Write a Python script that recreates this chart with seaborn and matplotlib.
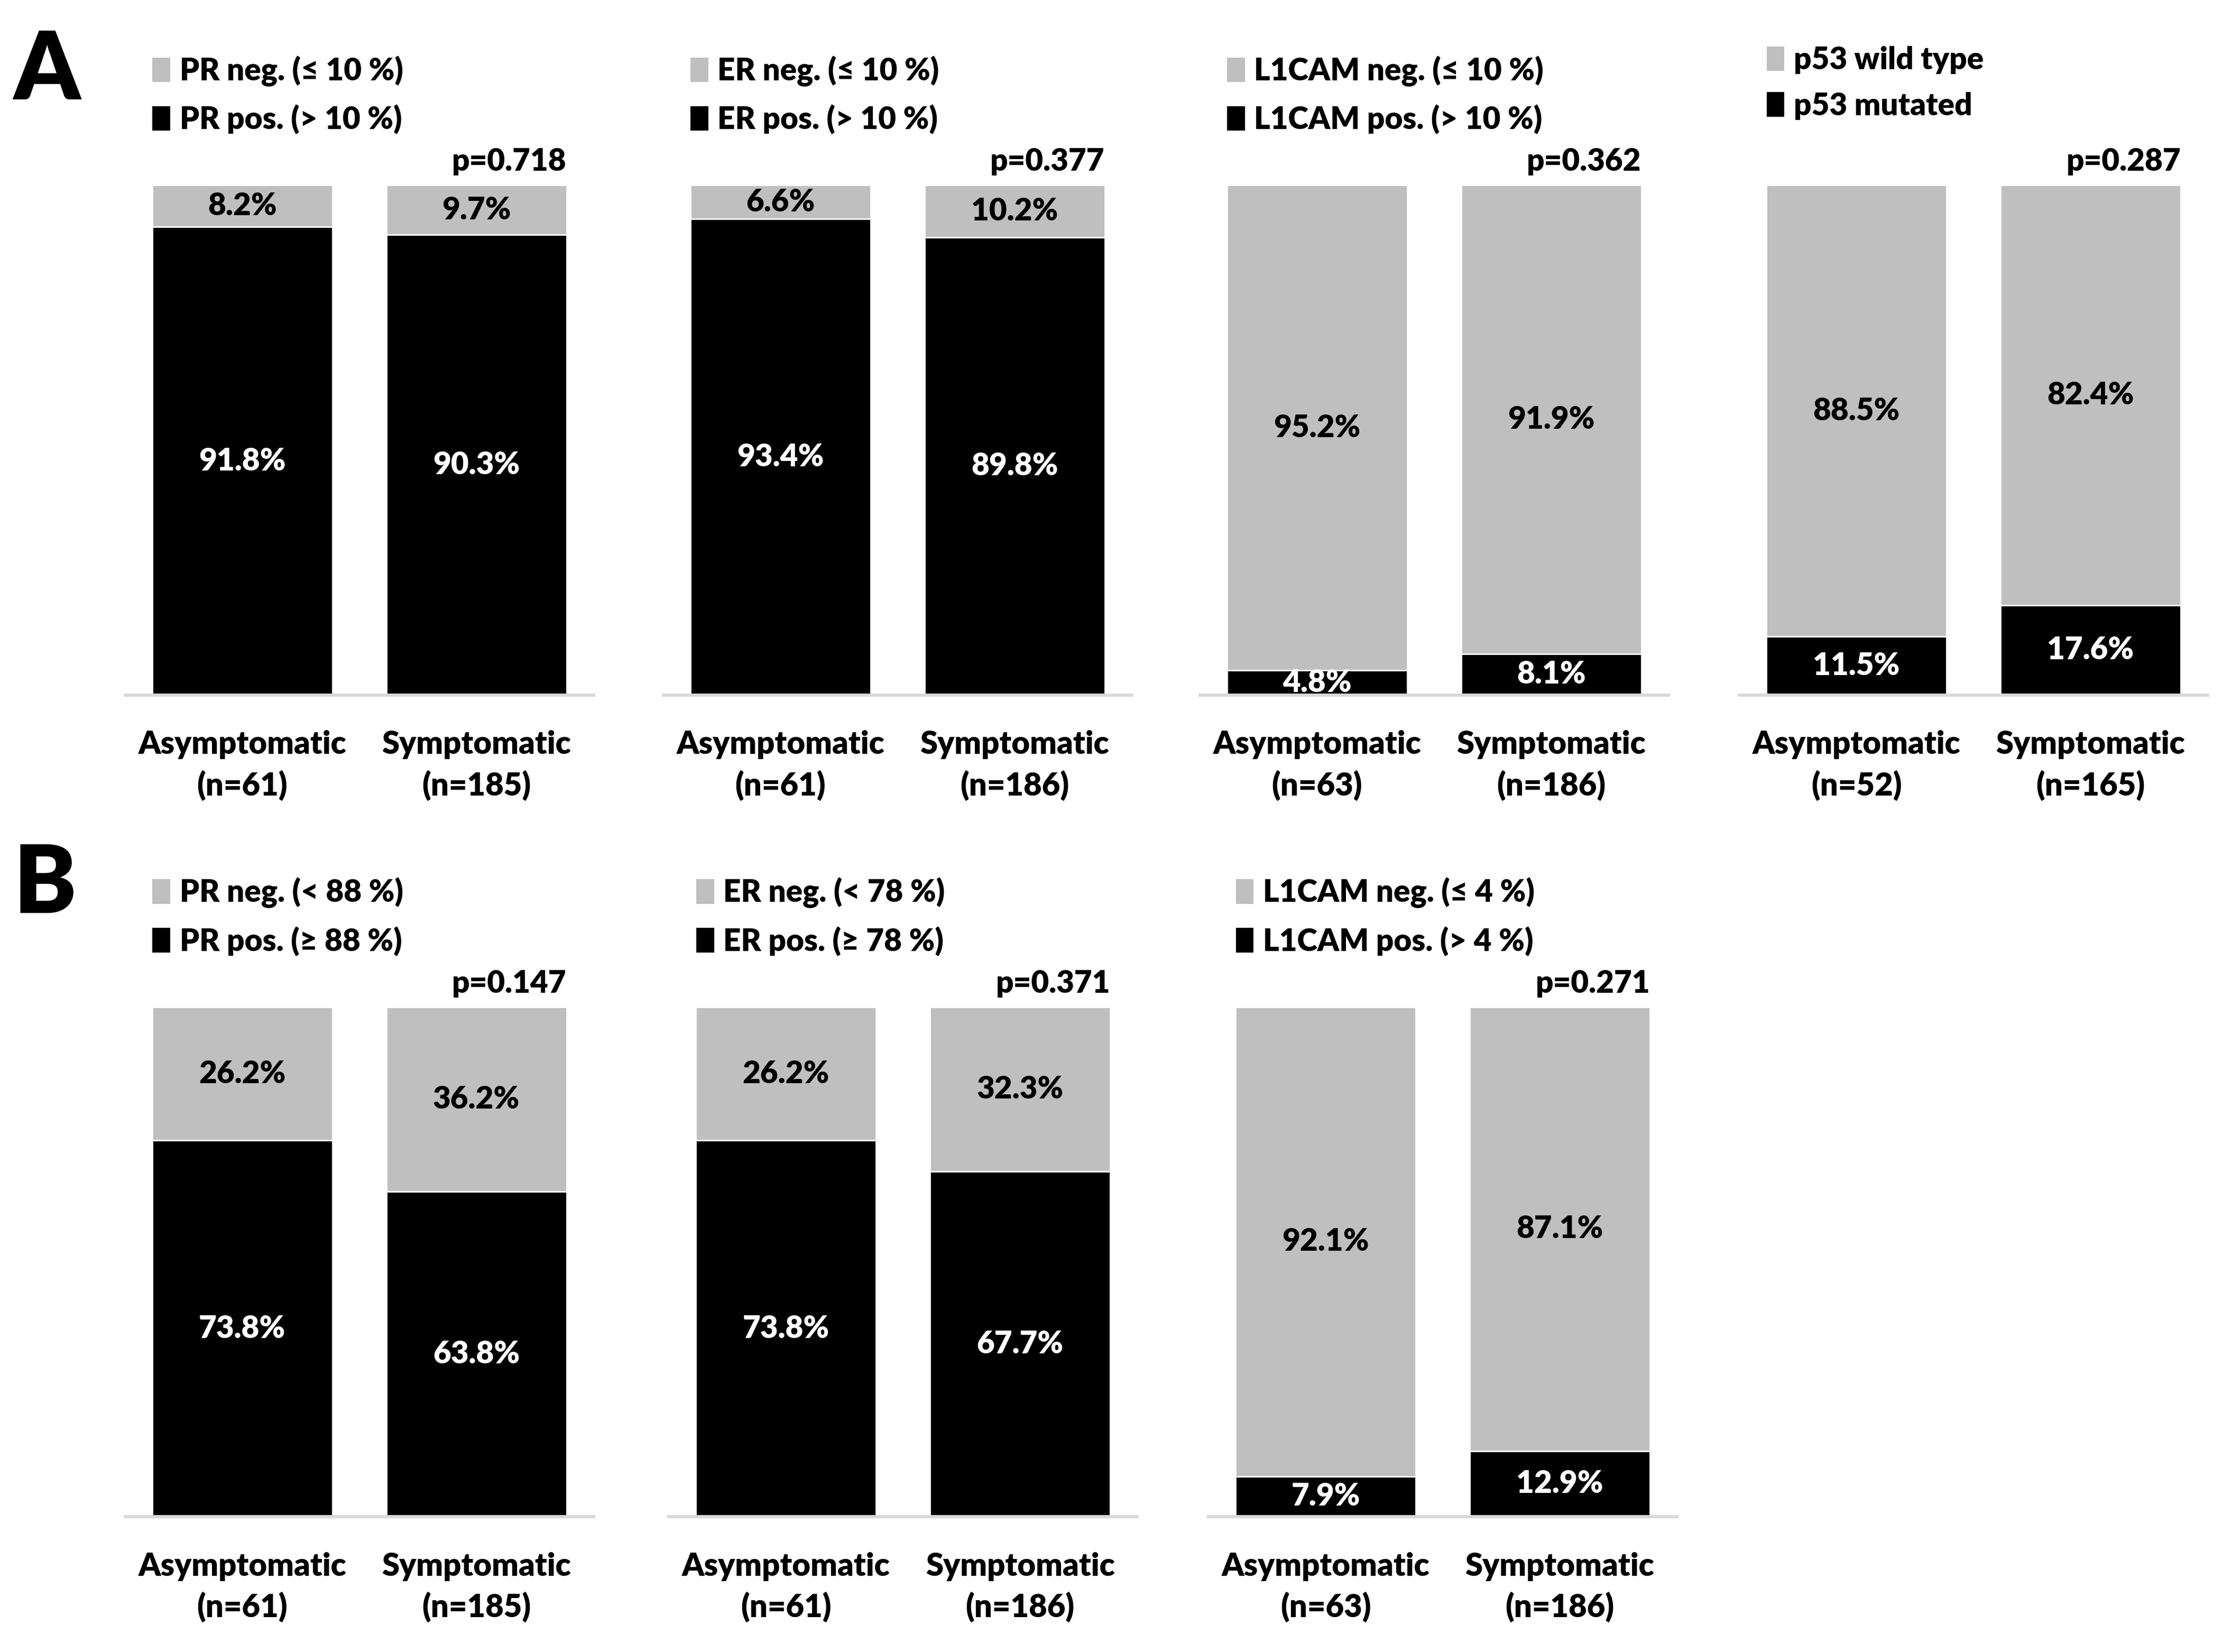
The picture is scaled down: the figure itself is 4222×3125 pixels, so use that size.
import numpy as np
import pandas as pd
from matplotlib import pyplot as plt
from matplotlib.patches import Patch
import seaborn as sns

# values (percent of patients)
groups = ['Asymptomatic', 'Symptomatic']

a_pr_neg = [8.2, 9.7]
a_pr_pos = [91.8, 90.3]
a_pr_n = [61, 185]
a_er_neg = [6.6, 10.2]
a_er_pos = [93.4, 89.8]
a_er_n = [61, 186]
a_l1_neg = [95.2, 91.9]
a_l1_pos = [4.8, 8.1]
a_l1_n = [63, 186]
a_p53_wt = [88.5, 82.4]
a_p53_mut = [11.5, 17.6]
a_p53_n = [52, 165]

b_pr_neg = [26.2, 36.2]
b_pr_pos = [73.8, 63.8]
b_pr_n = [61, 185]
b_er_neg = [26.2, 32.3]
b_er_pos = [73.8, 67.7]
b_er_n = [61, 186]
b_l1_neg = [92.1, 87.1]
b_l1_pos = [7.9, 12.9]
b_l1_n = [63, 186]

p_values_a = ['0.718', '0.377', '0.362', '0.287']
p_values_b = ['0.147', '0.371', '0.271']

legend_a = [('PR neg. (≤ 10 %)', 'PR pos. (> 10 %)'),
            ('ER neg. (≤ 10 %)', 'ER pos. (> 10 %)'),
            ('L1CAM neg. (≤ 10 %)', 'L1CAM pos. (> 10 %)'),
            ('p53 wild type', 'p53 mutated')]
legend_b = [('PR neg. (< 88 %)', 'PR pos. (≥ 88 %)'),
            ('ER neg. (< 78 %)', 'ER pos. (≥ 78 %)'),
            ('L1CAM neg. (≤ 4 %)', 'L1CAM pos. (> 4 %)')]

GREY = '#bfbfbf'
BLACK = '#000000'
FONT = ['Lato', 'DejaVu Sans']
WEIGHT = 'heavy'

sns.set_style('white')
plt.rcParams['font.family'] = FONT
plt.rcParams['font.weight'] = WEIGHT
plt.rcParams['text.color'] = 'black'
plt.rcParams['xtick.color'] = 'black'
plt.rcParams['xtick.labelcolor'] = 'black'


def draw_panel(ax, neg, pos, n, labels, p, leg_y=1.254):
    df = pd.DataFrame({'group': groups,
                       'neg': neg, 'pos': pos,
                       'total': np.array(neg) + np.array(pos)})
    sns.barplot(data=df, x='group', y='total', color=GREY, width=0.77,
                saturation=1, ax=ax)
    sns.barplot(data=df, x='group', y='pos', color=BLACK, width=0.77,
                saturation=1, ax=ax)
    ax.bar_label(ax.containers[1], labels=[f'{v:.1f}%' for v in pos],
                 label_type='center', color='white', fontsize=21,
                 fontweight=WEIGHT)
    for i, row in df.iterrows():
        ax.text(i, row['pos'] + row['neg'] / 2, f"{row['neg']:.1f}%",
                ha='center', va='center', fontsize=21, fontweight=WEIGHT,
                color='black')
    ax.text(1 + 0.385, 102.8, f'p={p}', ha='right', va='baseline',
            fontsize=21, fontweight=WEIGHT)
    ax.set_xlim(-0.5, 1.5)
    ax.set_ylim(0, 100)
    ax.set_yticks([])
    ax.set_xlabel('')
    ax.set_ylabel('')
    ax.set_xticks([0, 1])
    ax.set_xticklabels([f'{g}\n(n={k})' for g, k in zip(groups, n)],
                       fontsize=21.5, fontweight=WEIGHT, linespacing=1.42)
    ax.tick_params(axis='x', length=0, pad=24)
    for s in ['top', 'left', 'right']:
        ax.spines[s].set_visible(False)
    ax.spines['bottom'].set_color('#d9d9d9')
    ax.spines['bottom'].set_linewidth(2.2)
    handles = [Patch(facecolor=GREY, edgecolor='none', label=labels[0]),
               Patch(facecolor=BLACK, edgecolor='none', label=labels[1])]
    ax.legend(handles=handles, loc='upper left', bbox_to_anchor=(0.058, leg_y),
              frameon=False, prop={'size': 21, 'weight': WEIGHT},
              handlelength=0.58, handleheight=0.85,
              handletextpad=0.3, labelspacing=0.58, borderpad=0,
              borderaxespad=0)


fig = plt.figure(figsize=(21.11, 15.625), dpi=200)

w = 0.2098
h = 0.3086
lefts_a = [0.0561, 0.2972, 0.5376, 0.7793]
lefts_b = [0.0561, 0.2997, 0.5415]

data_a = [(a_pr_neg, a_pr_pos, a_pr_n), (a_er_neg, a_er_pos, a_er_n),
          (a_l1_neg, a_l1_pos, a_l1_n), (a_p53_wt, a_p53_mut, a_p53_n)]
data_b = [(b_pr_neg, b_pr_pos, b_pr_n), (b_er_neg, b_er_pos, b_er_n),
          (b_l1_neg, b_l1_pos, b_l1_n)]

for i, (neg, pos, n) in enumerate(data_a):
    ax = fig.add_axes([lefts_a[i], 0.5793, w, h])
    draw_panel(ax, neg, pos, n, legend_a[i], p_values_a[i],
               leg_y=1.273 if i == 3 else 1.254)

for i, (neg, pos, n) in enumerate(data_b):
    ax = fig.add_axes([lefts_b[i], 0.0819, w, h])
    draw_panel(ax, neg, pos, n, legend_b[i], p_values_b[i])

fig.text(0.006, 0.9397, 'A', fontsize=64, fontweight=WEIGHT, va='baseline')
fig.text(0.006, 0.4474, 'B', fontsize=64, fontweight=WEIGHT, va='baseline')

fig.savefig('out.png', dpi=200, facecolor='white')
